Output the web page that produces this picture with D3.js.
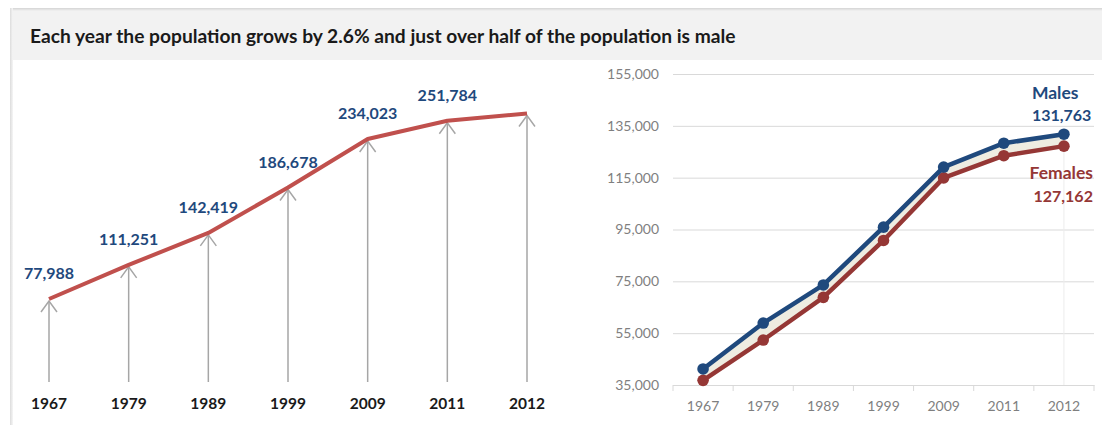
<!DOCTYPE html>
<html><head><meta charset="utf-8">
<script src="https://cdn.jsdelivr.net/npm/d3@7"></script>
<style>
body{margin:0;background:#fff;}
svg{display:block;font-family:Lato,"Open Sans",sans-serif;}
</style>
</head><body>
<svg id="c" width="1102" height="425"></svg>
<script>
// ---- data ----
const years = ["1967","1979","1989","1999","2009","2011","2012"];
const totals = [77988,111251,142419,186678,234023,251784,258925];
const totalLabels = ["77,988","111,251","142,419","186,678","234,023","251,784",""];
const males = [41200,58900,73600,95900,119100,128300,131763];
const females = [36788,52351,68819,90778,114923,123484,127162];
const yTicks = [35000,55000,75000,95000,115000,135000,155000];
const titleText = "Each year the population grows by 2.6% and just over half of the population is male";
const maleLabel = ["Males","131,763"];
const femaleLabel = ["Females","127,162"];

const svg = d3.select("#c");
const defs = svg.append("defs");

// ---- panel frame & title bar ----
const gTop = defs.append("linearGradient").attr("id","shTop").attr("x1",0).attr("y1",0).attr("x2",0).attr("y2",1);
gTop.append("stop").attr("offset",0).attr("stop-color","#d4d4d4");
gTop.append("stop").attr("offset",1).attr("stop-color","#f2f2f2");
const gLeft = defs.append("linearGradient").attr("id","shLeft").attr("x1",0).attr("y1",0).attr("x2",1).attr("y2",0);
gLeft.append("stop").attr("offset",0).attr("stop-color","#dcdcdc");
gLeft.append("stop").attr("offset",1).attr("stop-color","#f6f6f6");

svg.append("rect").attr("x",10).attr("y",8).attr("width",1092).attr("height",52).attr("fill","#f2f2f2");
svg.append("rect").attr("x",10).attr("y",8).attr("width",1092).attr("height",3).attr("fill","url(#shTop)");
svg.append("rect").attr("x",10).attr("y",8).attr("width",3).attr("height",417).attr("fill","url(#shLeft)");

svg.append("text").attr("x",30).attr("y",43)
  .attr("font-size",19.2).attr("font-weight","bold").attr("fill","#1a1a1a")
  .text(titleText);

// ---- left chart: totals ----
const xl = d3.scalePoint().domain(years).range([49,527]);
const yl = d3.scaleLinear().domain([0,260000]).range([379,379-260000/975]);

const gl = svg.append("g");
// arrows
years.forEach((yr,i)=>{
  const x = xl(yr), y = yl(totals[i]) + 2;
  gl.append("line").attr("x1",x).attr("x2",x).attr("y1",yl(0)+3).attr("y2",y)
    .attr("stroke","#a6a6a6").attr("stroke-width",1.5);
  gl.append("path").attr("d",`M${x-8},${y+11}L${x},${y}L${x+8},${y+11}`)
    .attr("fill","none").attr("stroke","#a6a6a6").attr("stroke-width",1.5);
});
gl.append("path").datum(totals)
  .attr("d",d3.line().x((d,i)=>xl(years[i])).y(d=>yl(d)))
  .attr("fill","none").attr("stroke","#c0504d").attr("stroke-width",4).attr("stroke-linejoin","round");
gl.selectAll("text.val").data(totals).join("text").attr("class","val")
  .attr("x",(d,i)=>xl(years[i])).attr("y",d=>yl(d)-20)
  .attr("text-anchor","middle").attr("font-size",16).attr("font-weight","bold").attr("fill","#1f497d")
  .text((d,i)=>totalLabels[i]);
gl.selectAll("text.yr").data(years).join("text").attr("class","yr")
  .attr("x",d=>xl(d)).attr("y",409)
  .attr("text-anchor","middle").attr("font-size",15.5).attr("font-weight","bold").attr("fill","#1a1a1a")
  .text(d=>d);

// ---- right chart: males / females ----
const xr = d3.scaleBand().domain(years).range([673,1094]).padding(0);
const cx = yr => xr(yr)+xr.bandwidth()/2;
const yr_ = d3.scaleLinear().domain([35000,155000]).range([385,74]);

const gr = svg.append("g");
const yAxis = gr.append("g").attr("transform","translate(673,0)")
  .call(d3.axisLeft(yr_).tickValues(yTicks).tickFormat(d3.format(",")).tickSize(-(1094-673)).tickPadding(14));
yAxis.select(".domain").remove();
yAxis.selectAll(".tick line").attr("stroke","#d9d9d9");
yAxis.selectAll(".tick text").attr("fill","#7f7f7f").attr("font-size",14).attr("font-family","Lato,sans-serif");

// faint drop line at last point
gr.append("line").attr("x1",cx("2012")).attr("x2",cx("2012"))
  .attr("y1",yr_(males[6])).attr("y2",385).attr("stroke","#ececec").attr("stroke-width",1);

// x axis
const xAxis = gr.append("g").attr("transform","translate(0,385)")
  .call(d3.axisBottom(xr).tickSize(0).tickPadding(16));
xAxis.select(".domain").attr("stroke","#d9d9d9");
xAxis.selectAll(".tick text").attr("fill","#7f7f7f").attr("font-size",14).attr("font-family","Lato,sans-serif");
const bounds = years.map(y=>xr(y)).concat([xr.range()[1]]);
gr.selectAll("line.xt").data(bounds).join("line").attr("class","xt")
  .attr("x1",d=>d).attr("x2",d=>d).attr("y1",385).attr("y2",391).attr("stroke","#d9d9d9");

// band between
gr.append("path").datum(years)
  .attr("d",d3.area().x(d=>cx(d)).y0((d,i)=>yr_(females[i])).y1((d,i)=>yr_(males[i])))
  .attr("fill","#eeece1");

const series = [{v:females,c:"#953735"},{v:males,c:"#1f497d"}];
series.forEach(s=>{
  gr.append("path").datum(s.v)
    .attr("d",d3.line().x((d,i)=>cx(years[i])).y(d=>yr_(d)))
    .attr("fill","none").attr("stroke",s.c).attr("stroke-width",4.5).attr("stroke-linejoin","round");
  gr.selectAll(null).data(s.v).join("circle")
    .attr("cx",(d,i)=>cx(years[i])).attr("cy",d=>yr_(d)).attr("r",5.8).attr("fill",s.c);
});

// series labels
const lx = cx("2012");
gr.append("text").attr("x",lx-32).attr("y",yr_(males[6])-35)
  .attr("font-size",17.5).attr("font-weight","bold").attr("fill","#1f497d").text(maleLabel[0]);
gr.append("text").attr("x",lx-32).attr("y",yr_(males[6])-13)
  .attr("font-size",16).attr("font-weight","bold").attr("fill","#1f497d").text(maleLabel[1]);
gr.append("text").attr("x",lx+29).attr("y",yr_(females[6])+33).attr("text-anchor","end")
  .attr("font-size",17.5).attr("font-weight","bold").attr("fill","#953735").text(femaleLabel[0]);
gr.append("text").attr("x",lx+29).attr("y",yr_(females[6])+56).attr("text-anchor","end")
  .attr("font-size",16).attr("font-weight","bold").attr("fill","#953735").text(femaleLabel[1]);
</script>
</body></html>
